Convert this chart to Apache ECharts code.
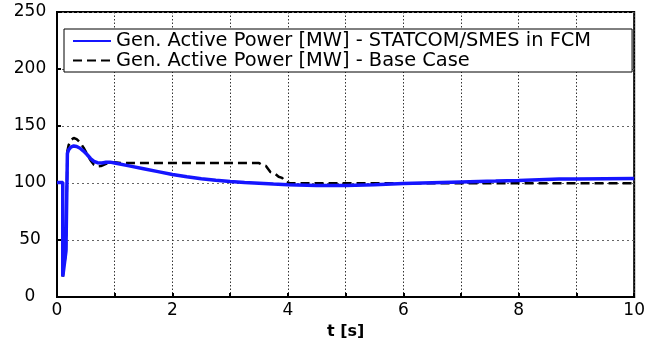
<!DOCTYPE html>
<html>
<head>
<meta charset="utf-8">
<script src="https://cdn.jsdelivr.net/npm/echarts@6/dist/echarts.min.js"></script>
<style>
  html, body { margin: 0; padding: 0; background: #fff; }
  #chart { width: 648px; height: 353px; }
</style>
</head>
<body>
<div id="chart"></div>
<script>
// time [s] and generator active power [MW]
const tSmes = [0, 0.1, 0.1, 0.155, 0.18, 0.2, 0.24, 0.29, 0.34, 0.4, 0.46, 0.52, 0.58, 0.64, 0.7, 0.78, 0.85, 0.92, 1.0,
  1.25, 1.5, 1.75, 2.0, 2.25, 2.5, 2.75, 3.0, 3.25, 3.5, 3.75, 4.0, 4.5, 5.0, 5.5, 6.0, 6.5, 7.0, 7.6, 8.0, 8.7, 9.0, 10];
const pSmes = [100.5, 100.5, 18, 40, 126, 129, 131.5, 132.5, 132, 130.5, 128, 125, 121.5, 119, 117.8, 117.5, 118.2, 118.3, 117.5,
  115, 112.5, 110, 107.5, 105.5, 103.8, 102.4, 101.3, 100.5, 99.8, 99.1, 98.5, 97.8, 97.7, 98.5, 99.5, 100.2, 100.9, 101.7, 102.3, 103.4, 103.5, 104];

const tBase = [0, 0.1, 0.1, 0.155, 0.18, 0.2, 0.24, 0.29, 0.34, 0.4, 0.46, 0.52, 0.58, 0.64, 0.7, 0.76, 0.82, 0.9, 1.0, 1.1,
  3.5, 3.55, 3.62, 3.7, 3.77, 3.84, 3.9, 3.96, 4.05, 10];
const pBase = [100.5, 100.5, 18, 40, 128, 133, 137.5, 139.5, 138.5, 135.5, 131, 125.5, 120, 116, 114.5, 114.8, 116.2, 117.8, 118.3, 117.5,
  117.5, 116, 115, 109.5, 108.5, 105.5, 104.5, 101, 99.7, 99.7];

const seriesNames = [
  "Gen. Active Power [MW] - STATCOM/SMES in FCM",
  "Gen. Active Power [MW] - Base Case",
];

const chart = echarts.init(document.getElementById("chart"));

chart.setOption({
  animation: false,
  backgroundColor: "#fff",
  textStyle: { fontFamily: "DejaVu Sans, sans-serif" },
  grid: {
    left: 57, right: 12, top: 12, bottom: 56,
    show: true, borderColor: "#000", borderWidth: 2,
  },
  legend: {
    data: seriesNames,
    orient: "vertical",
    left: 64, top: 29,
    itemWidth: 38, itemHeight: 14, itemGap: 0.5,
    padding: [2.5, 41, 2, 8],
    backgroundColor: "#fff",
    borderColor: "#000", borderWidth: 1,
    itemStyle: { opacity: 0 },
    textStyle: { fontSize: 19.4, lineHeight: 19, color: "#000" },
  },
  xAxis: {
    type: "value",
    min: 0, max: 10, interval: 1,
    name: "t [s]",
    nameLocation: "middle",
    nameGap: 27,
    nameTextStyle: { fontSize: 16, fontWeight: "bold", color: "#000" },
    axisLine: { lineStyle: { color: "#000", width: 2 } },
    axisTick: { inside: true, length: 4, lineStyle: { color: "#000", width: 2 } },
    axisLabel: {
      fontSize: 17, color: "#000", margin: 5,
      formatter: (v) => (v % 2 === 0 ? String(v) : ""),
    },
    splitLine: { lineStyle: { color: "#333", type: [1.5, 2], width: 1 } },
  },
  yAxis: {
    type: "value",
    min: 0, max: 250, interval: 50,
    axisLine: { show: true, lineStyle: { color: "#000", width: 2 } },
    axisTick: { show: true, inside: true, length: 4, lineStyle: { color: "#000", width: 2 } },
    axisLabel: { fontSize: 17, color: "#000", margin: 27, align: "center" },
    splitLine: { lineStyle: { color: "#666", type: [2, 3], width: 1 } },
  },
  series: [
    {
      name: seriesNames[0],
      type: "line",
      z: 3,
      symbol: "none",
      data: tSmes.map((t, i) => [t, pSmes[i]]),
      lineStyle: { color: "#1515ff", width: 3.5 },
      itemStyle: { color: "#1515ff" },
    },
    {
      name: seriesNames[1],
      type: "line",
      z: 2,
      symbol: "none",
      data: tBase.map((t, i) => [t, pBase[i]]),
      lineStyle: { color: "#000", width: 2.5, type: [9, 5] },
      itemStyle: { color: "#000" },
    },
  ],
});
</script>
</body>
</html>
